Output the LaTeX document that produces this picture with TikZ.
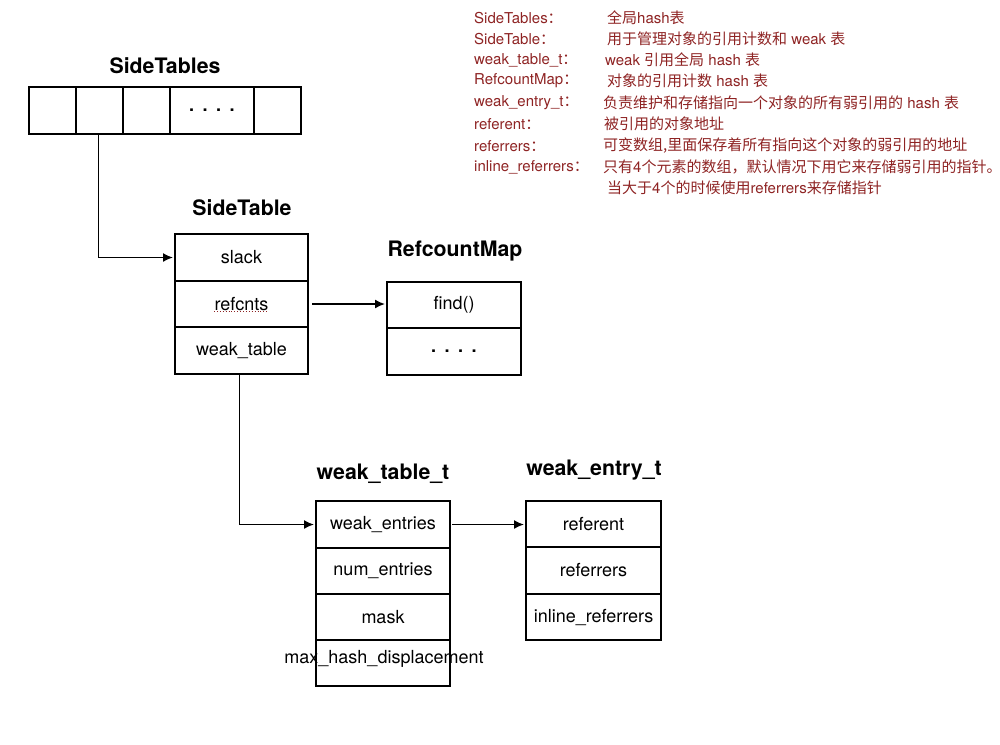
\documentclass[tikz,border=0pt]{standalone}
\usepackage{fontspec}
\setmainfont{TeX Gyre Heros}
\newfontfamily\cjk{Noto Sans CJK SC}
\usetikzlibrary{arrows.meta}
\definecolor{legred}{HTML}{8E2323}
\newcommand{\C}[1]{{\cjk #1}}
\newcommand{\dotrow}{.\hspace{8.5pt}.\hspace{8.5pt}.\hspace{8.5pt}.}
\begin{document}
\begin{tikzpicture}[x=1pt,y=-1pt,
  cell/.style={draw, line width=1.6pt, inner sep=0pt, outer sep=0pt, anchor=north west,
    font=\fontsize{18}{21}\selectfont},
  title/.style={font=\fontsize{21.3}{25}\selectfont\bfseries},
  conn/.style={line width=1.6pt, -{Latex[length=10pt,width=9pt]}, shorten >=2pt},
  leg/.style={anchor=west, text=legred, inner sep=0pt, font=\fontsize{15}{18}\selectfont}
]
\useasboundingbox (0,0) rectangle (1000,744);

% SideTables
\node[title] (tSideTables) at (165,66) {SideTables};
\node[cell, minimum width=47pt, minimum height=47pt] (st1) at (29,87) {};
\node[cell, minimum width=47pt, minimum height=47pt] (st2) at (76,87) {};
\node[cell, minimum width=47pt, minimum height=47pt] (st3) at (123,87) {};
\node[cell, minimum width=84pt, minimum height=47pt] (st4) at (170,87) {\bfseries\dotrow};
\node[cell, minimum width=47pt, minimum height=47pt] (st5) at (254,87) {};

% SideTable
\node[title] (tSideTable) at (242,208) {SideTable};
\node[cell, minimum width=133pt, minimum height=47pt] (slack) at (175,234) {slack};
\node[cell, minimum width=133pt, minimum height=46pt] (refcnts) at (175,281) {refcnts};
\node[cell, minimum width=133pt, minimum height=47pt] (weaktable) at (175,327) {weak\_table};
\draw[legred, line width=0.9pt, dotted] (214,311) -- (269,311);

% RefcountMap
\node[title] (tRefcountMap) at (455,251) {RefcountMap};
\node[cell, minimum width=134pt, minimum height=46pt] (find) at (387,282) {find()};
\node[cell, minimum width=134pt, minimum height=47pt] (rcdots) at (387,328) {\bfseries\dotrow};

% weak_table_t
\node[title] (tWeakTable) at (383,474) {weak\_table\_t};
\node[cell, minimum width=134pt, minimum height=47pt] (weakentries) at (316,501) {weak\_entries};
\node[cell, minimum width=134pt, minimum height=46pt] (numentries) at (316,548) {num\_entries};
\node[cell, minimum width=134pt, minimum height=46pt] (mask) at (316,594) {mask};
\node[cell, minimum width=134pt, minimum height=46pt] (maxhash) at (316,640) {};
\node[font=\fontsize{18}{21}\selectfont, inner sep=0pt] (maxhashtext) at (384,659) {max\_hash\_displacement};

% weak_entry_t
\node[title] (tWeakEntry) at (594,470) {weak\_entry\_t};
\node[cell, minimum width=135pt, minimum height=46pt] (referent) at (526,501) {referent};
\node[cell, minimum width=135pt, minimum height=47pt] (referrers) at (526,547) {referrers};
\node[cell, minimum width=135pt, minimum height=46pt] (inlineref) at (526,594) {inline\_referrers};

% connectors
\draw[conn] ([xshift=-1pt]st2.south) |- (slack.west);
\draw[conn] ([xshift=4pt]refcnts.east) -- (refcnts.east -| find.west);
\draw[conn] ([xshift=-2pt]weaktable.south) |- (weakentries.west);
\draw[conn] ([xshift=2pt]weakentries.east) -- (weakentries.east -| referent.west);

% legend
\node[leg] (l1a) at (474,18) {SideTables\C{：}};
\node[leg] (l1b) at (607,18) {\C{全局}hash\C{表}};
\node[leg] (l2a) at (474,39) {SideTable\C{：}};
\node[leg] (l2b) at (607,39) {\C{用于管理对象的引用计数和} weak \C{表}};
\node[leg] (l3a) at (474,60) {weak\_table\_t\C{：}};
\node[leg] (l3b) at (605,60) {weak \C{引用全局} hash \C{表}};
\node[leg] (l4a) at (474,81) {RefcountMap\C{：}};
\node[leg] (l4b) at (607,81) {\C{对象的引用计数} hash \C{表}};
\node[leg] (l5a) at (474,103) {weak\_entry\_t\C{：}};
\node[leg] (l5b) at (603,103) {\C{负责维护和存储指向一个对象的所有弱引用的} hash \C{表}};
\node[leg] (l6a) at (474,124) {referent\C{：}};
\node[leg] (l6b) at (604,124) {\C{被引用的对象地址}};
\node[leg] (l7a) at (474,146) {referrers\C{：}};
\node[leg] (l7b) at (603,146) {\C{可变数组}\C{,}\C{里面保存着所有指向这个对象的弱引用的地址}};
\node[leg] (l8a) at (474,167) {inline\_referrers\C{：}};
\node[leg] (l8b) at (603,167) {\C{只有}4\C{个元素的数组，默认情况下用它来存储弱引用的指针。}};
\node[leg] (l9b) at (607,188) {\C{当大于}4\C{个的时候使用}referrers\C{来存储指针}};
\end{tikzpicture}
\end{document}
